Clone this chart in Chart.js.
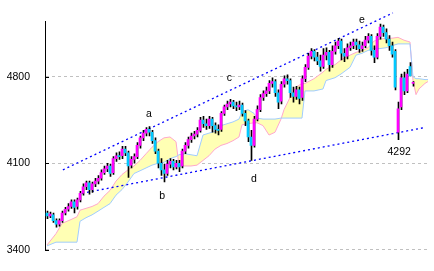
<!DOCTYPE html>
<html>
<head>
<meta charset="utf-8">
<script src="https://cdn.jsdelivr.net/npm/chart.js@4"></script>
<style>
  html, body { margin: 0; padding: 0; background: #fff; }
  #wrap { width: 434px; height: 271px; }
</style>
</head>
<body>
<div id="wrap"><canvas id="chart"></canvas></div>
<script>
// ---- candles (one per index) ----
const opens = [
  3697, 3674, 3682, 3636, 3606, 3636, 3697, 3728, 3750, 3788,
  3750, 3804, 3857, 3910, 3941, 3887, 3933, 3956, 3979, 4024,
  4055, 4078, 4024, 4138, 4161, 4161, 4215, 4184, 4085, 4131,
  4154, 4245, 4306, 4344, 4374, 4351, 4283, 4199, 4100, 4047,
  4017, 4093, 4115, 4070, 4100, 4078, 4199, 4245, 4291, 4321,
  4336, 4367, 4450, 4420, 4405, 4458, 4405, 4374, 4374, 4504,
  4557, 4580, 4595, 4565, 4557, 4572, 4504, 4443, 4313, 4245,
  4458, 4534, 4633, 4664, 4686, 4747, 4762, 4671, 4603, 4740,
  4785, 4770, 4671, 4641, 4694, 4633, 4785, 4877, 4968, 5006,
  4960, 4930, 4884, 4976, 4998, 4899, 5006, 5052, 5090, 4991,
  4968, 5036, 5052, 5082, 5059, 5029, 5052, 5097, 5128, 5014,
  4960, 5128, 5204, 5158, 5105, 5052, 5006, 4351, 4557, 4793,
  4686, 4884, 4747
];
const highs = [
  3712, 3705, 3697, 3651, 3651, 3712, 3743, 3773, 3804, 3804,
  3819, 3872, 3933, 3956, 3956, 3948, 3979, 4001, 4047, 4078,
  4100, 4093, 4154, 4184, 4192, 4237, 4237, 4199, 4154, 4177,
  4268, 4321, 4367, 4390, 4397, 4367, 4306, 4215, 4138, 4093,
  4123, 4138, 4131, 4123, 4123, 4215, 4268, 4313, 4344, 4359,
  4390, 4473, 4481, 4458, 4481, 4473, 4428, 4412, 4519, 4572,
  4603, 4618, 4610, 4595, 4603, 4587, 4527, 4458, 4367, 4481,
  4565, 4656, 4686, 4717, 4770, 4793, 4778, 4694, 4762, 4808,
  4816, 4785, 4717, 4724, 4717, 4808, 4899, 4991, 5029, 5021,
  4998, 4976, 5029, 5036, 5014, 5052, 5082, 5113, 5105, 5029,
  5067, 5082, 5105, 5105, 5090, 5082, 5128, 5151, 5143, 5052,
  5151, 5227, 5219, 5189, 5135, 5082, 5021, 4595, 4823, 4839,
  4861, 4915, 4762
];
const lows = [
  3651, 3659, 3621, 3583, 3591, 3621, 3682, 3712, 3735, 3697,
  3728, 3788, 3842, 3887, 3849, 3864, 3910, 3933, 3963, 4009,
  4032, 3994, 4009, 4115, 4131, 4138, 4161, 3986, 4062, 4100,
  4138, 4222, 4283, 4321, 4321, 4260, 4177, 4062, 4001, 3948,
  4001, 4062, 4047, 4055, 4032, 4062, 4177, 4222, 4268, 4298,
  4313, 4351, 4390, 4374, 4382, 4351, 4344, 4329, 4359, 4488,
  4534, 4557, 4542, 4527, 4534, 4481, 4405, 4275, 4123, 4230,
  4443, 4519, 4610, 4641, 4664, 4717, 4641, 4542, 4580, 4717,
  4740, 4633, 4595, 4618, 4580, 4610, 4762, 4861, 4945, 4930,
  4899, 4846, 4869, 4937, 4846, 4877, 4983, 5029, 4937, 4922,
  4945, 5014, 5029, 5021, 4998, 5006, 5036, 5074, 4976, 4915,
  4945, 5105, 5128, 5074, 5014, 4960, 4694, 4292, 4534, 4656,
  4671, 4808, 4724
];
const closes = [
  3674, 3689, 3636, 3606, 3636, 3697, 3728, 3750, 3788, 3743,
  3804, 3857, 3910, 3941, 3887, 3933, 3956, 3979, 4024, 4055,
  4078, 4017, 4138, 4161, 4154, 4215, 4184, 4078, 4131, 4154,
  4245, 4306, 4344, 4374, 4351, 4283, 4199, 4100, 4047, 4017,
  4093, 4115, 4070, 4100, 4070, 4199, 4245, 4291, 4321, 4336,
  4367, 4450, 4420, 4405, 4458, 4405, 4374, 4367, 4504, 4557,
  4580, 4595, 4565, 4557, 4572, 4504, 4443, 4313, 4245, 4458,
  4534, 4633, 4664, 4686, 4747, 4762, 4671, 4595, 4740, 4785,
  4770, 4671, 4641, 4694, 4625, 4785, 4877, 4968, 5006, 4960,
  4930, 4884, 4976, 4998, 4899, 5006, 5052, 5090, 4991, 4968,
  5036, 5052, 5082, 5059, 5029, 5052, 5097, 5128, 5014, 4960,
  5128, 5204, 5158, 5105, 5052, 4983, 4717, 4542, 4793, 4686,
  4823, 4808, 4750
];

// ---- ichimoku cloud (leading spans, shifted ahead) ----
const cloudIdx = [
  0, 3, 5, 8, 10, 11, 13, 15, 17, 19,
  21, 23, 25, 27, 29, 31, 33, 35, 37, 39,
  41, 43, 44, 46, 48, 50, 52, 54, 56, 58,
  60, 62, 64, 65, 67, 69, 70, 72, 74, 76,
  78, 79, 81, 83, 85, 86, 89, 92, 93, 96,
  98, 101, 103, 105, 107, 109, 111, 113, 115, 117,
  119, 121, 122, 123, 124, 126, 127
];
const spanA = [
  3438, 3530, 3613, 3644, 3667, 3720, 3735, 3750, 3773, 3834,
  3880, 3956, 4009, 4047, 4078, 4123, 4177, 4230, 4275, 4306,
  4313, 4275, 4078, 4078, 4078, 4085, 4123, 4161, 4215, 4245,
  4260, 4283, 4313, 4412, 4420, 4428, 4428, 4405, 4329, 4351,
  4458, 4534, 4633, 4717, 4747, 4747, 4785, 4839, 4861, 4899,
  4937, 4976, 4998, 5014, 5036, 5090, 5105, 5113, 5113, 5120,
  5097, 5082, 4770, 4656, 4702, 4747, 4762
];
const spanB = [
  3431, 3461, 3461, 3461, 3461, 3630, 3659, 3682, 3712, 3743,
  3773, 3842, 3887, 3948, 4017, 4039, 4062, 4085, 4100, 4108,
  4138, 4154, 4169, 4177, 4169, 4161, 4329, 4344, 4359, 4405,
  4420, 4435, 4458, 4519, 4534, 4504, 4466, 4458, 4458, 4458,
  4466, 4466, 4466, 4466, 4466, 4686, 4686, 4702, 4770, 4793,
  4823, 4877, 4976, 4991, 5014, 5029, 5029, 5036, 5052, 5067,
  5067, 5067, 4801, 4785, 4785, 4778, 4778
];

// ---- trend lines ----
const upperIdx = [5.3, 115.3];
const upperVal = [4047, 5318];
const lowerIdx = [11.7, 126];
const lowerVal = [3857, 4390];

// ---- axis ticks and marks ----
const yTicks = [3400, 4100, 4800];
const markText = ['a', 'b', 'c', 'd', 'e', '4292'];
const markIdx = [34.0, 38.4, 60.8, 69.0, 105.0, 117.4];
const markVal = [4496, 3834, 4793, 3971, 5257, 4192];

const UP = '#ff00ff', DOWN = '#00c8ff';
const FONT = '"Liberation Sans", Arial, sans-serif';

const bodies = opens.map((o, i) => ({ x: i, y: [o, closes[i]] }));
const bodyColors = opens.map((o, i) => closes[i] >= o ? UP : DOWN);
// wick sits on the right half of the 2px body
const wicks = lows.map((l, i) => ({ x: i + 1 / 6, y: [l, highs[i]] }));
const pts = (xs, ys) => xs.map((x, i) => ({ x, y: ys[i] }));

const extras = {
  id: 'extras',
  afterDraw(chart) {
    const { ctx, chartArea } = chart;
    const x = chart.scales.x, y = chart.scales.y;
    ctx.save();
    ctx.strokeStyle = '#000';
    ctx.lineWidth = 1;
    yTicks.forEach(v => {
      const py = Math.round(y.getPixelForValue(v)) + 0.5;
      ctx.beginPath();
      ctx.moveTo(chartArea.left, py);
      ctx.lineTo(chartArea.left + 4, py);
      ctx.stroke();
    });
    ctx.fillStyle = '#000';
    ctx.font = '10.5px ' + FONT;
    ctx.textAlign = 'center';
    ctx.textBaseline = 'middle';
    markText.forEach((t, i) => {
      ctx.fillText(t, x.getPixelForValue(markIdx[i]), y.getPixelForValue(markVal[i]));
    });
    ctx.restore();
  }
};

new Chart(document.getElementById('chart'), {
  type: 'bar',
  data: {
    datasets: [
      { type: 'bar', data: bodies, backgroundColor: bodyColors, barThickness: 2,
        grouped: false, minBarLength: 1, borderWidth: 0, order: 0 },
      { type: 'bar', data: wicks, backgroundColor: '#000', barThickness: 1,
        grouped: false, borderWidth: 0, order: 1 },
      { type: 'line', data: pts(upperIdx, upperVal), borderColor: '#0000ff', borderWidth: 1.3,
        borderDash: [2, 3], pointRadius: 0, fill: false, clip: false, order: 2 },
      { type: 'line', data: pts(lowerIdx, lowerVal), borderColor: '#0000ff', borderWidth: 1.3,
        borderDash: [2, 3], pointRadius: 0, fill: false, order: 2 },
      { type: 'line', data: pts(cloudIdx, spanA), borderColor: '#ffa8cc', borderWidth: 1,
        backgroundColor: '#ffffb4', fill: '+1', pointRadius: 0, tension: 0, order: 4 },
      { type: 'line', data: pts(cloudIdx, spanB), borderColor: '#a0ccff', borderWidth: 1,
        pointRadius: 0, fill: false, tension: 0, order: 3 }
    ]
  },
  options: {
    responsive: true,
    maintainAspectRatio: false,
    animation: false,
    devicePixelRatio: 1,
    layout: { padding: { left: 0, right: 5, top: 14, bottom: 14 } },
    plugins: { legend: { display: false }, tooltip: { enabled: false } },
    scales: {
      x: {
        type: 'linear', display: false, offset: false,
        min: -2 / 3, max: 127 + 1 / 3,
        grid: { display: false, offset: false }
      },
      y: {
        min: 3400, max: 5250,
        afterFit: s => { s.width = 45; },
        afterBuildTicks: s => { s.ticks = yTicks.map(v => ({ value: v })); },
        grid: { color: '#c0c0c0', lineWidth: 1, drawTicks: false },
        border: { display: true, color: '#000', width: 1, dash: [3, 3] },
        ticks: { color: '#000', padding: 15, font: { family: FONT, size: 10.5 },
                 callback: v => String(v) }
      }
    }
  },
  plugins: [extras]
});
</script>
</body>
</html>
